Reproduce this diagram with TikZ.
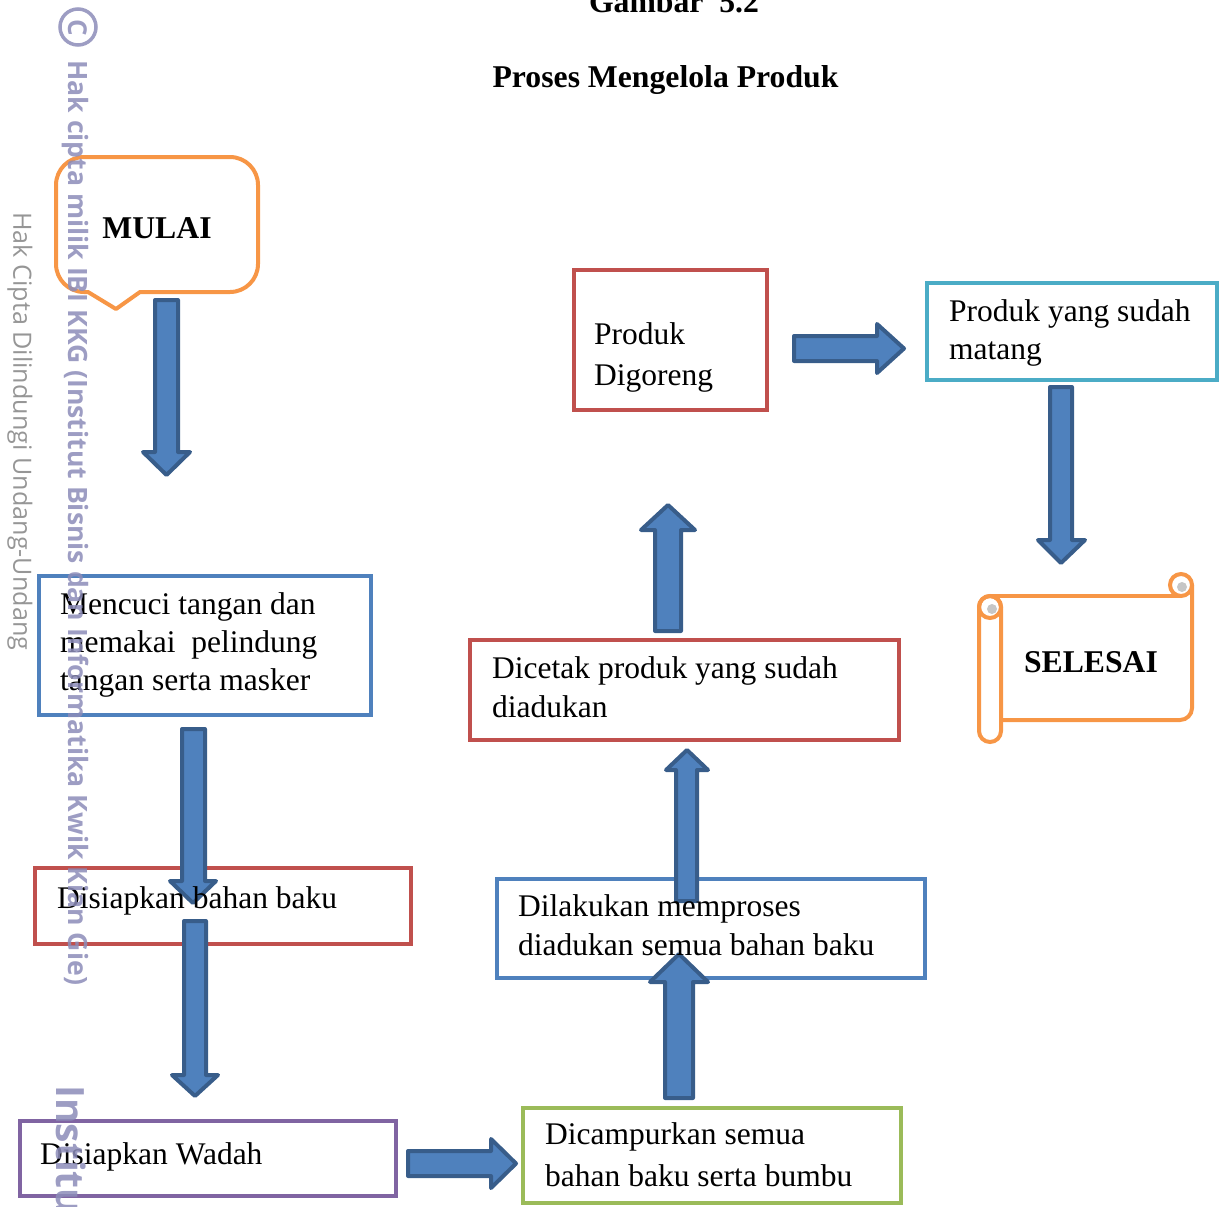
\documentclass[tikz,border=0pt]{standalone}
\usepackage{fontspec}
\usepackage{graphicx}
\setmainfont{Liberation Serif}
\newfontfamily\wmfont{Open Sans}
\definecolor{orng}{RGB}{247,150,70}
\definecolor{bl}{RGB}{79,129,189}
\definecolor{bldark}{RGB}{56,93,138}
\definecolor{rd}{RGB}{192,80,77}
\definecolor{pu}{RGB}{128,100,162}
\definecolor{gr}{RGB}{155,187,89}
\definecolor{cy}{RGB}{75,172,198}
\definecolor{wm}{RGB}{140,140,185}
\definecolor{wmgray}{RGB}{150,150,150}
\begin{document}
\begin{tikzpicture}[x=1pt,y=-1pt,
  box/.style={draw=#1, line width=4pt, inner sep=0pt, outer sep=0pt},
  blockarrow/.style={fill=bl, draw=bldark, line width=4pt, line join=round},
  txt/.style={anchor=base west, inner sep=0pt, font=\fontsize{31.5}{38}\selectfont},
  ttl/.style={anchor=base, inner sep=0pt, font=\fontsize{31.7}{38}\selectfont\bfseries},
  scroll/.style={draw=orng, line width=4pt},
  wmtext/.style={anchor=west, rotate=-90, inner sep=0pt, text=wm, opacity=0.85, font=\wmfont\bfseries}
]
\useasboundingbox (0,0) rectangle (1226,1207);
\clip (0,0) rectangle (1226,1207);

% titles
\node[ttl] (gambar) at (674,13) {Gambar\ \ 5.2};
\node[ttl] (judul) at (665.5,87) {Proses Mengelola Produk};

% MULAI callout
\draw[orng, line width=4pt, line join=round]
  (116,309) [sharp corners] -- (140,292) [rounded corners=28] -- (258,292) -- (258,157) -- (56,157) -- (56,292) [sharp corners] -- (88,292) -- cycle;
\node[ttl] (mulai) at (157,238) {MULAI};

% boxes
\node[box=bl, minimum width=332pt, minimum height=139pt] (mencuci) at (205,645.5) {};
\node[box=rd, minimum width=376pt, minimum height=76pt] (bahan) at (223,906) {};
\node[box=pu, minimum width=376pt, minimum height=75pt] (wadah) at (208,1158.5) {};
\node[box=gr, minimum width=378pt, minimum height=95pt] (campur) at (712,1155.5) {};
\node[box=bl, minimum width=428pt, minimum height=99pt] (proses) at (711,928.5) {};
\node[box=rd, minimum width=429pt, minimum height=100pt] (cetak) at (684.5,690) {};
\node[box=rd, minimum width=193pt, minimum height=140pt] (goreng) at (670.5,340) {};
\node[box=cy, minimum width=290pt, minimum height=97pt] (matang) at (1072,331.5) {};

% SELESAI scroll
\draw[scroll, rounded corners=12pt] (1001,720) -- (1192,720) -- (1192,585);
\draw[scroll] (990,596) -- (1181,596);
\draw[scroll, fill=white] (1181,585) circle (11);
\fill[gray!45] (1182,587) circle (5);
\draw[scroll, fill=white, rounded corners=11pt] (979,596) rectangle (1001,742);
\draw[scroll] (990,607) circle (11);
\fill[gray!45] (992,609) circle (5);
\node[ttl] (selesai) at (1091,672) {SELESAI};

% block arrows
\draw[blockarrow] (155,300) -- (178,300) -- (178,452) -- (190,452) -- (166.5,475) -- (143,452) -- (155,452) -- cycle;
\draw[blockarrow] (182,729) -- (205,729) -- (205,881) -- (216,881) -- (193,903) -- (170,881) -- (182,881) -- cycle;
\draw[blockarrow] (184,921) -- (206,921) -- (206,1075) -- (218,1075) -- (195,1096) -- (172,1075) -- (184,1075) -- cycle;
\draw[blockarrow] (408,1151) -- (491,1151) -- (491,1139) -- (516,1163.5) -- (491,1188) -- (491,1176) -- (408,1176) -- cycle;
\draw[blockarrow] (665,1098) -- (693,1098) -- (693,982) -- (708,982) -- (679,954) -- (650,982) -- (665,982) -- cycle;
\draw[blockarrow] (676,901) -- (697,901) -- (697,770) -- (708,770) -- (687,750) -- (666,770) -- (676,770) -- cycle;
\draw[blockarrow] (655,631) -- (681,631) -- (681,530) -- (695,530) -- (668,505) -- (641,530) -- (655,530) -- cycle;
\draw[blockarrow] (794,336) -- (877,336) -- (877,324) -- (904,348.5) -- (877,373) -- (877,361) -- (794,361) -- cycle;
\draw[blockarrow] (1050,387) -- (1072,387) -- (1072,540) -- (1085,540) -- (1061,563) -- (1038,540) -- (1050,540) -- cycle;

% texts
\node[txt] (t1a) at (60,614) {Mencuci tangan dan};
\node[txt] (t1b) at (60,652) {memakai\ \ pelindung};
\node[txt] (t1c) at (60,690) {tangan serta masker};
\node[txt] (t2) at (57,908) {Disiapkan bahan baku};
\node[txt] (t3) at (40,1164) {Disiapkan Wadah};
\node[txt] (t4a) at (545,1144) {Dicampurkan semua};
\node[txt] (t4b) at (545,1186) {bahan baku serta bumbu};
\node[txt] (t5a) at (518,916) {Dilakukan memproses};
\node[txt] (t5b) at (518,955) {diadukan semua bahan baku};
\node[txt] (t6a) at (492,678) {Dicetak produk yang sudah};
\node[txt] (t6b) at (492,717) {diadukan};
\node[txt] (t7a) at (594,344) {Produk};
\node[txt] (t7b) at (594,385) {Digoreng};
\node[txt] (t8a) at (949,321) {Produk yang sudah};
\node[txt] (t8b) at (949,359) {matang};

% watermark
\draw[wm, opacity=0.85, line width=3.5pt] (78,27) circle (18);
\node[wmtext, anchor=center, font=\wmfont\bfseries\fontsize{26}{26}\selectfont] (copyc) at (78,27.5) {C};
\node[wmtext] (wm1) at (75,60) {\resizebox{925pt}{!}{Hak cipta milik IBI KKG (Institut Bisnis dan Informatika Kwik Kian Gie)}};
\node[anchor=west, rotate=-90, inner sep=0pt, text=wmgray, font=\wmfont] (wm2) at (20,212) {\resizebox{438pt}{!}{Hak Cipta Dilindungi Undang-Undang}};
\node[wmtext, font=\wmfont\bfseries\fontsize{39}{39}\selectfont] (wm3) at (71,1085) {Institut};
\end{tikzpicture}
\end{document}
